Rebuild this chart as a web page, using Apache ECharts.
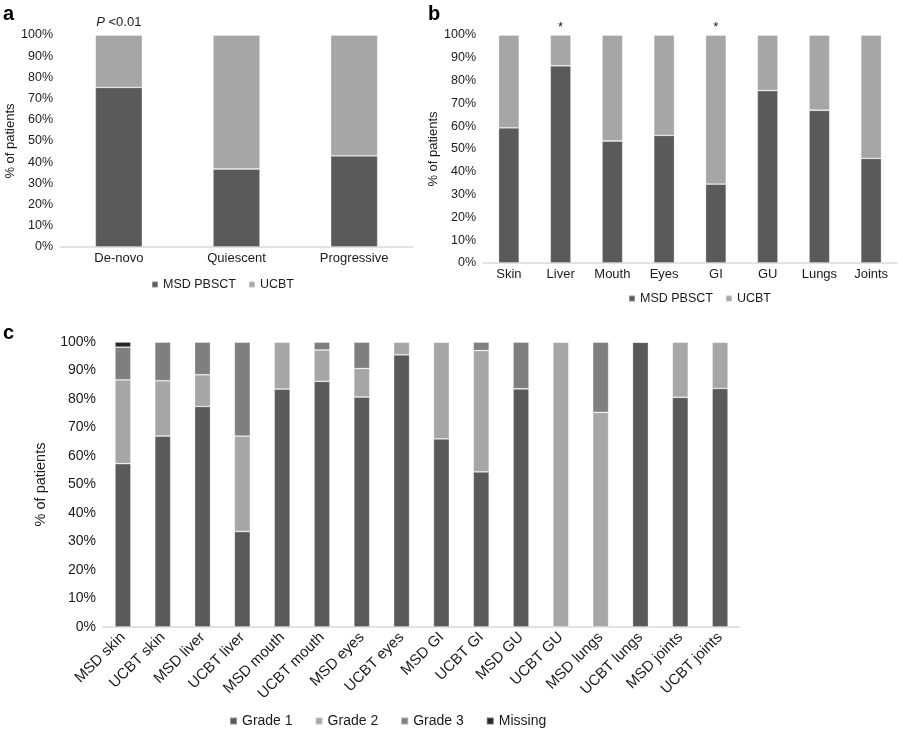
<!DOCTYPE html>
<html>
<head>
<meta charset="utf-8">
<script src="https://cdn.jsdelivr.net/npm/echarts@6/dist/echarts.min.js"></script>
<style>html,body{margin:0;padding:0;background:#fff}#chart{width:903px;height:735px}</style>
</head>
<body>
<div id="chart"></div>
<script>
// Panel a
const catsA = ['De-novo', 'Quiescent', 'Progressive'];
const msdA = [75.3, 36.8, 43.0];
const ucbtA = [24.7, 63.2, 57.0];
// Panel b
const catsB = ['Skin', 'Liver', 'Mouth', 'Eyes', 'GI', 'GU', 'Lungs', 'Joints'];
const msdB = [59.3, 86.5, 53.5, 56.0, 34.6, 75.6, 67.0, 45.9];
const ucbtB = [40.7, 13.5, 46.5, 44.0, 65.4, 24.4, 33.0, 54.1];
const starsB = ['Liver', 'GI'];
// Panel c
const catsC = ['MSD skin', 'UCBT skin', 'MSD liver', 'UCBT liver', 'MSD mouth', 'UCBT mouth', 'MSD eyes', 'UCBT eyes',
  'MSD GI', 'UCBT GI', 'MSD GU', 'UCBT GU', 'MSD lungs', 'UCBT lungs', 'MSD joints', 'UCBT joints'];
const grade1 = [57.3, 67.0, 77.4, 33.5, 83.5, 86.2, 80.7, 95.5, 66.0, 54.4, 83.6, 0, 0, 100, 80.6, 83.7];
const grade2 = [29.4, 19.4, 11.1, 33.5, 16.5, 11.0, 10.0, 4.5, 34.0, 42.6, 0, 100, 75.3, 0, 19.4, 16.3];
const grade3 = [11.5, 13.6, 11.5, 33.0, 0, 2.8, 9.3, 0, 0, 3.0, 16.4, 0, 24.7, 0, 0, 0];
const missing = [1.8, 0, 0, 0, 0, 0, 0, 0, 0, 0, 0, 0, 0, 0, 0, 0];
const yTicks = [0, 100, 10];

const FONT = "'Liberation Sans', Arial, sans-serif";
const TXT = '#1a1a1a';
const C1 = '#5a5a5a', C2 = '#a6a6a6', C3 = '#7f7f7f', C4 = '#262626';

function yAx(gi, fs, gap) {
  return {
    type: 'value', gridIndex: gi, min: yTicks[0], max: yTicks[1], interval: yTicks[2],
    name: '% of patients', nameLocation: 'middle', nameGap: gap,
    nameTextStyle: { fontFamily: FONT, fontSize: fs, color: TXT },
    axisLabel: { formatter: '{value}%', fontFamily: FONT, fontSize: fs - 0.5, color: TXT, margin: 7 },
    axisLine: { show: false }, axisTick: { show: false }, splitLine: { show: false }
  };
}
function xAx(gi, cats, fs, rot) {
  return {
    type: 'category', gridIndex: gi, data: cats,
    axisLine: { show: true, lineStyle: { color: '#d9d9d9', width: 1.5 } },
    axisTick: { show: false },
    axisLabel: { fontFamily: FONT, fontSize: fs, color: TXT, margin: rot ? 8 : 5, rotate: rot || 0, interval: 0 }
  };
}
const itemBorder = { borderColor: 'rgba(255,255,255,0.35)', borderWidth: 0.8 };
function bar(name, data, xi, stack, color, extra) {
  return Object.assign({
    type: 'bar', name: name, data: data, xAxisIndex: xi, yAxisIndex: xi, stack: stack,
    barWidth: '40%', itemStyle: Object.assign({ color: color }, itemBorder),
    emphasis: { disabled: true }
  }, extra || {});
}

const chart = echarts.init(document.getElementById('chart'), null, { renderer: 'canvas' });
chart.setOption({
  animation: false,
  backgroundColor: '#fff',
  textStyle: { fontFamily: FONT },
  grid: [
    { left: 60, top: 35, width: 353, height: 212 },
    { left: 483, top: 35, width: 414, height: 228 },
    { left: 103, top: 342, width: 637, height: 285 }
  ],
  xAxis: [xAx(0, catsA, 13), xAx(1, catsB, 13), xAx(2, catsC, 15, 45)],
  yAxis: [yAx(0, 13, 43), yAx(1, 13, 38), yAx(2, 14.5, 55)],
  legend: [
    { data: ['MSD PBSCT', 'UCBT'], left: 146, top: 273, itemWidth: 6, itemHeight: 6, itemGap: 12,
      icon: 'rect', textStyle: { fontFamily: FONT, fontSize: 12.5, color: TXT }, selectedMode: false },
    { data: ['MSD PBSCT', 'UCBT'], left: 623, top: 287, itemWidth: 6, itemHeight: 6, itemGap: 12,
      icon: 'rect', textStyle: { fontFamily: FONT, fontSize: 12.5, color: TXT }, selectedMode: false },
    { data: ['Grade 1', 'Grade 2', 'Grade 3', 'Missing'], left: 224, top: 709, itemWidth: 7, itemHeight: 7, itemGap: 22,
      icon: 'rect', textStyle: { fontFamily: FONT, fontSize: 14, color: TXT }, selectedMode: false }
  ],
  graphic: [
    { type: 'text', left: 3, top: 4, style: { text: 'a', font: "bold 20px 'Liberation Sans', Arial", fill: '#000' } },
    { type: 'text', left: 428, top: 4, style: { text: 'b', font: "bold 20px 'Liberation Sans', Arial", fill: '#000' } },
    { type: 'text', left: 3, top: 323, style: { text: 'c', font: "bold 20px 'Liberation Sans', Arial", fill: '#000' } }
  ],
  series: [
    bar('MSD PBSCT', msdA, 0, 'a', C1),
    bar('UCBT', ucbtA, 0, 'a', C2, {
      markPoint: {
        symbol: 'circle', symbolSize: 0, silent: true,
        label: { show: true, position: 'top', distance: 6, color: TXT, fontFamily: FONT, fontSize: 13,
          formatter: '{i|P} <0.01', rich: { i: { fontStyle: 'italic', fontFamily: FONT, fontSize: 13, color: TXT } } },
        data: [{ coord: [catsA[0], 100] }]
      }
    }),
    bar('MSD PBSCT', msdB, 1, 'b', C1),
    bar('UCBT', ucbtB, 1, 'b', C2, {
      markPoint: {
        symbol: 'circle', symbolSize: 0, silent: true,
        label: { show: true, position: 'top', distance: 1, color: TXT, fontFamily: FONT, fontSize: 13, formatter: '*' },
        data: starsB.map(c => ({ coord: [c, 100] }))
      }
    }),
    bar('Grade 1', grade1, 2, 'c', C1),
    bar('Grade 2', grade2, 2, 'c', C2),
    bar('Grade 3', grade3, 2, 'c', C3),
    bar('Missing', missing, 2, 'c', C4)
  ]
});
</script>
</body>
</html>
